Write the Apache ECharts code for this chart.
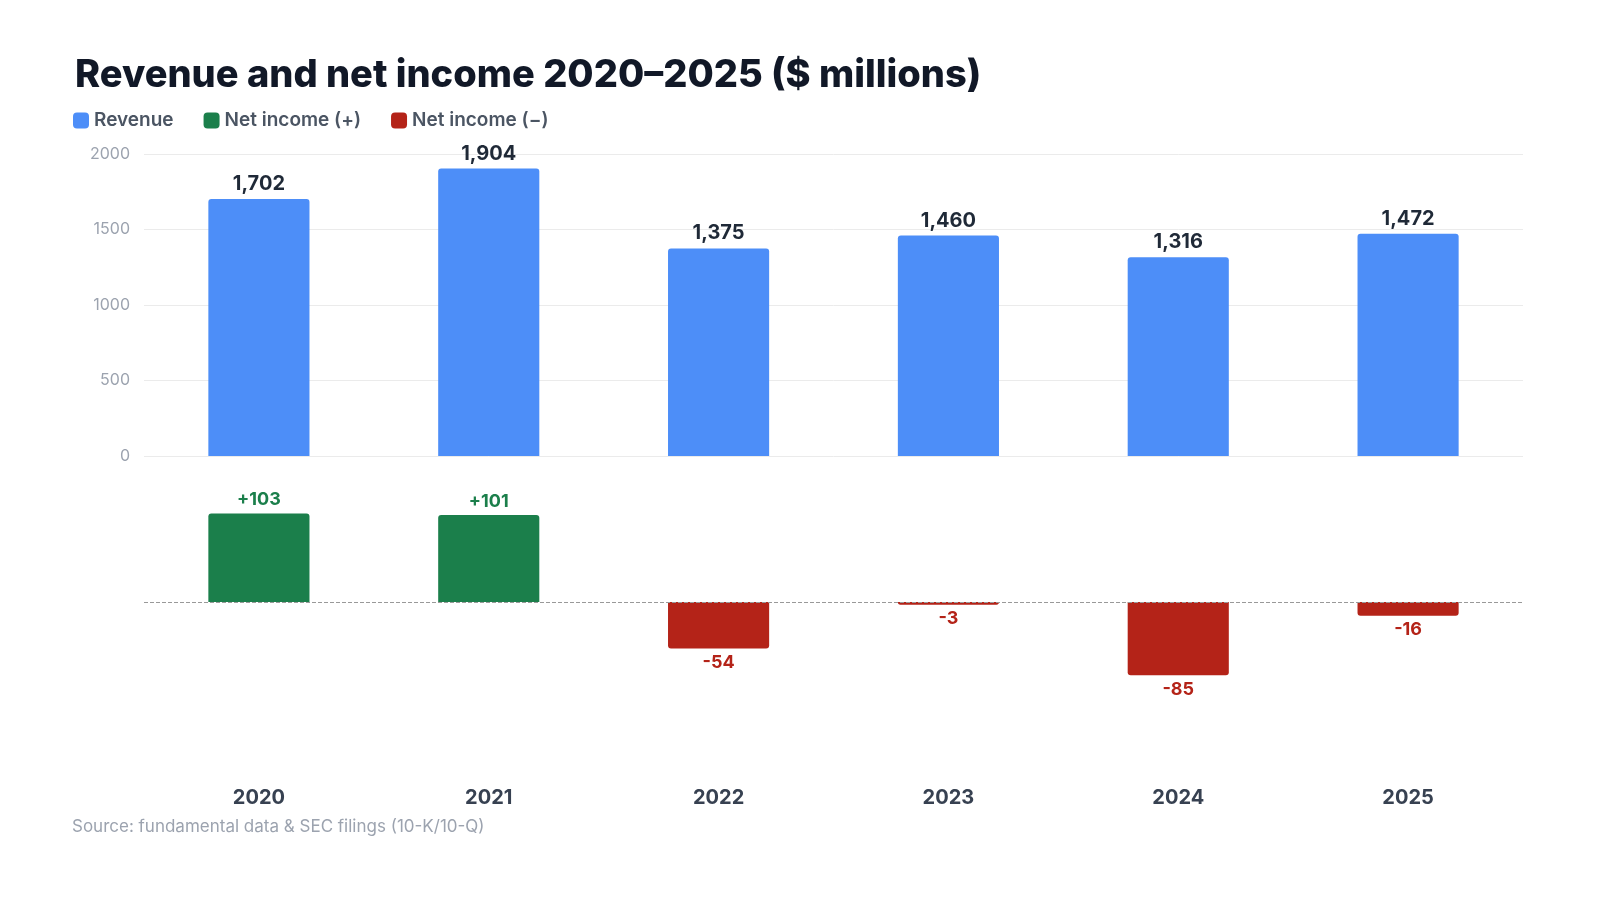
<!DOCTYPE html>
<html lang="en">
<head>
<meta charset="UTF-8">
<title>Revenue and net income</title>
<script src="https://cdn.jsdelivr.net/npm/echarts@6/dist/echarts.min.js"></script>
<style>html,body{margin:0;background:#fff}</style>
</head>
<body>
<div class="main" style="width:1600px;height:900px"></div>
<script>
    var years = ["2020", "2021", "2022", "2023", "2024", "2025"];
    var revenue = [1702, 1904, 1375, 1460, 1316, 1472];
    var netIncome = [103, 101, -54, -3, -85, -16];

    var pos = netIncome.map(function (v) { return v >= 0 ? v : '-'; });
    var neg = netIncome.map(function (v) { return v < 0 ? v : '-'; });

    var chart = echarts.init(document.querySelector(".main"));
    var font = "Inter, 'Noto Sans', sans-serif";

    var option = {
        textStyle: {fontFamily: font},
        title: {
            text: "Revenue and net income 2020–2025 ($ millions)",
            left: 70, top: 52,
            textStyle: {fontSize: 38, fontWeight: 800, color: "#111827", fontFamily: font}
        },
        legend: {
            left: 68, top: 106, itemWidth: 16, itemHeight: 16, itemGap: 30, icon: "roundRect",
            textStyle: {fontSize: 19, color: "#4b5563", fontWeight: 600, fontFamily: font},
            data: ["Revenue", "Net income (+)", "Net income (−)"]
        },
        graphic: [{
            type: "text", left: 72, top: 818,
            style: {text: "Source: fundamental data & SEC filings (10-K/10-Q)", fontSize: 17, fill: "#9ca3af", fontFamily: font}
        }],
        grid: [
            {left: 144, right: 77, top: 154, bottom: 444},
            {left: 144, right: 77, top: 460, bottom: 130}
        ],
        xAxis: [
            {type: "category", data: years, gridIndex: 0, axisLine: {show: false}, axisTick: {show: false}, axisLabel: {show: false}},
            {type: "category", data: years, gridIndex: 1, axisLine: {show: false}, axisTick: {show: false},
                axisLabel: {fontSize: 20, fontWeight: 700, color: "#374151", margin: 18, fontFamily: font}}
        ],
        yAxis: [
            {type: "value", gridIndex: 0, min: 0, max: 2000, interval: 500,
                axisLabel: {fontSize: 16, color: "#9ca3af", margin: 14, formatter: function (v) { return String(v); }},
                splitLine: {lineStyle: {color: "#ebebeb"}}},
            {type: "value", gridIndex: 1, min: -195, max: 165, show: false, splitLine: {show: false}}
        ],
        series: [
            {name: "Revenue", type: "bar", data: revenue, xAxisIndex: 0, yAxisIndex: 0, barWidth: "44%",
                itemStyle: {color: "#4d8ef8", borderRadius: [3, 3, 0, 0]},
                label: {show: true, position: "top", fontSize: 20, fontWeight: 700, color: "#1f2937",
                    formatter: function (p) { return p.value.toLocaleString("en-US"); }}},
            {name: "Net income (+)", type: "bar", data: pos, xAxisIndex: 1, yAxisIndex: 1, barWidth: "44%", barGap: "-100%",
                itemStyle: {color: "#1b7f4b", borderRadius: [3, 3, 0, 0]},
                label: {show: true, position: "top", fontSize: 18, fontWeight: 700, color: "#1b7f4b",
                    formatter: function (p) { return "+" + p.value; }},
                markLine: {silent: true, symbol: "none", label: {show: false},
                    lineStyle: {type: "dashed", color: "#999", width: 1}, data: [{yAxis: 0}]}},
            {name: "Net income (−)", type: "bar", data: neg, xAxisIndex: 1, yAxisIndex: 1, barWidth: "44%", barGap: "-100%",
                itemStyle: {color: "#b42318", borderRadius: [0, 0, 3, 3]},
                label: {show: true, position: "bottom", fontSize: 18, fontWeight: 700, color: "#b42318",
                    formatter: function (p) { return String(p.value); }}}
        ]
    };
    chart.setOption(option);
</script>
</body>
</html>
